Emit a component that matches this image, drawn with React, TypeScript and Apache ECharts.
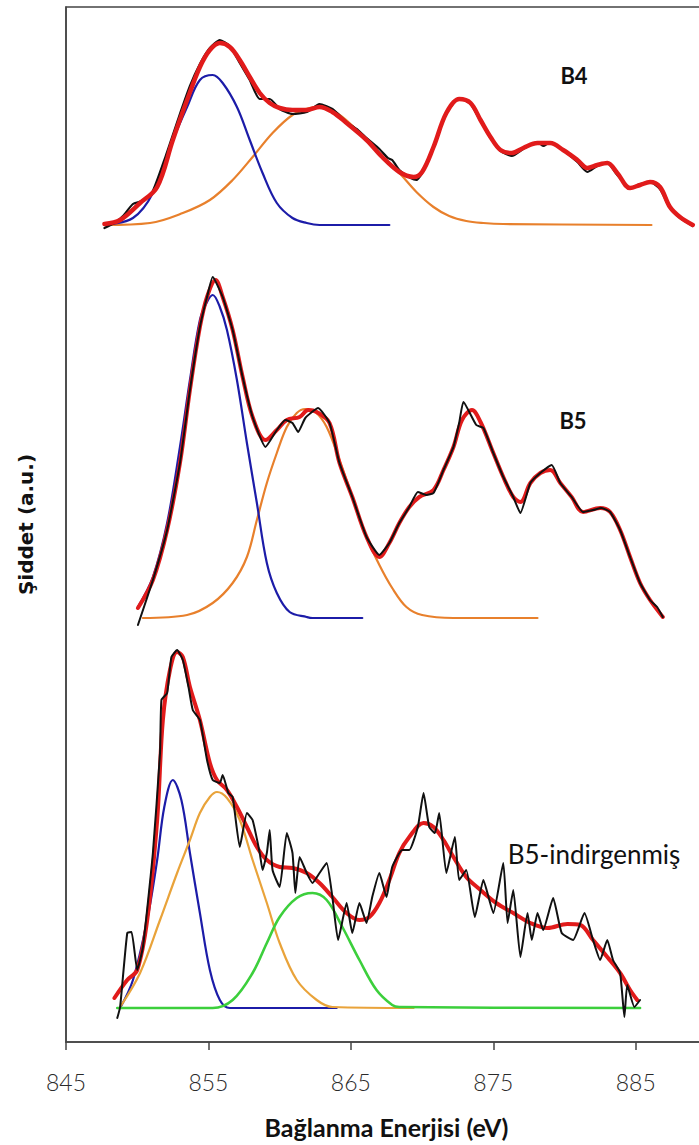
import React, { useEffect, useRef } from "react";
import * as echarts from "echarts";

// Binding energy axis (eV)
const X_MIN = 845;
const X_MAX = 890;
const X_STEP = 10;

// Vertical offsets (a.u.) used to stack the three spectra
const OFFSET_B4 = 816;
const OFFSET_B5 = 424;
const OFFSET_B5R = 34;

// ---- B4 ----  [eV, intensity above baseline]
const B4_RAW = [
  [847.7, -2], [848.5, 4], [849.0, 10], [849.7, 22], [850.3, 25], [851.0, 32], [852.0, 70],
  [852.9, 108], [853.7, 140], [854.4, 162], [855.1, 178], [855.8, 186], [856.5, 180],
  [857.2, 163], [857.9, 146], [858.6, 127], [859.3, 127], [860.0, 117], [860.9, 112],
  [861.9, 114], [862.8, 122], [863.7, 117], [864.7, 104], [865.5, 96], [866.1, 88],
  [867.0, 77], [867.6, 68], [867.9, 66], [868.4, 56], [869.2, 48], [869.6, 46], [870.0, 53],
  [870.8, 80], [871.7, 112], [872.6, 128], [873.4, 122], [874.1, 105], [874.8, 88],
  [875.5, 75], [876.3, 70], [877.1, 77], [878.1, 84], [878.5, 80], [879.0, 84], [879.9, 76],
  [880.9, 64], [881.6, 54], [882.3, 60], [883.0, 63], [883.7, 51], [884.6, 38], [885.3, 42],
  [886.0, 44], [886.7, 37], [887.4, 18], [888.1, 8], [889.0, 0],
];
const B4_FIT = [
  [847.7, 2], [848.8, 6], [850.2, 23], [851.4, 39], [852.5, 86], [853.5, 126], [854.4, 159],
  [855.1, 176], [855.8, 183], [856.5, 179], [857.2, 166], [857.9, 149], [858.6, 133],
  [859.3, 123], [860.0, 118], [860.9, 116], [861.9, 116], [862.8, 119], [863.7, 114],
  [864.7, 103], [866.1, 86], [867.2, 69], [868.4, 54], [869.4, 49], [870.0, 54], [870.8, 79],
  [871.7, 113], [872.6, 127], [873.4, 123], [874.1, 106], [874.8, 89], [875.5, 76],
  [876.3, 73], [877.1, 78], [878.1, 83], [879.0, 83], [879.9, 76], [880.9, 66], [881.6, 58],
  [882.3, 61], [883.0, 63], [883.7, 53], [884.6, 38], [885.3, 41], [886.0, 44], [886.7, 39],
  [887.4, 19], [888.1, 9], [889.0, 1],
];
const B4_PEAK_1 = [
  [847.7, 1], [849.7, 8], [851.1, 33], [852.5, 86], [853.5, 119], [854.4, 146], [855.3, 151],
  [856.0, 143], [857.0, 119], [857.9, 86], [858.8, 53], [859.8, 23], [860.9, 8], [861.9, 3],
  [862.8, 1], [867.7, 1],
];
const B4_PEAK_2 = [
  [847.7, 1], [850.9, 3], [853.2, 13], [855.1, 26], [856.7, 46], [858.1, 69], [859.5, 93],
  [860.9, 111], [862.1, 118], [863.0, 119], [864.0, 113], [864.9, 103], [866.1, 86],
  [867.2, 69], [868.4, 53], [869.6, 34], [870.8, 19], [871.9, 10], [873.1, 5], [874.3, 3],
  [875.7, 2], [886.1, 1],
];

// ---- B5 ----
const B5_RAW = [
  [850.05, -7], [851.1, 38], [852.1, 88], [853.0, 155], [853.7, 228], [854.4, 291],
  [854.9, 321], [855.3, 341], [856.0, 321], [856.7, 288], [857.4, 241], [858.1, 201],
  [859.0, 171], [859.8, 188], [860.4, 198], [860.9, 195], [861.3, 186], [861.8, 200],
  [862.7, 210], [863.5, 195], [864.2, 155], [865.1, 121], [866.1, 81], [867.0, 63],
  [867.7, 75], [868.4, 95], [869.1, 111], [869.7, 126], [870.3, 123], [870.8, 125],
  [871.5, 148], [872.2, 171], [872.6, 195], [872.9, 216], [873.8, 193], [874.3, 190],
  [875.0, 165], [875.7, 141], [876.4, 121], [876.9, 105], [877.6, 135], [878.3, 145],
  [879.1, 153], [879.7, 135], [880.5, 121], [881.3, 106], [882.0, 108], [882.6, 110],
  [883.2, 106], [883.9, 88], [884.6, 61], [885.3, 35], [886.0, 18], [886.5, 11], [886.9, 1],
];
const B5_FIT = [
  [850.05, 10], [851.1, 38], [852.1, 88], [853.0, 155], [853.7, 228], [854.4, 291],
  [854.9, 321], [855.5, 338], [856.0, 321], [856.7, 288], [857.4, 241], [858.1, 201],
  [859.0, 178], [859.8, 188], [860.5, 198], [861.4, 201], [862.0, 208], [862.6, 206],
  [863.5, 195], [864.2, 155], [865.1, 121], [866.1, 81], [867.0, 61], [867.7, 75],
  [868.4, 95], [869.1, 111], [869.8, 121], [870.8, 128], [871.5, 148], [872.2, 171],
  [872.8, 198], [873.5, 208], [874.1, 196], [875.0, 165], [875.7, 141], [876.4, 121],
  [876.9, 116], [877.6, 135], [878.3, 145], [879.0, 148], [879.7, 135], [880.5, 121],
  [881.3, 106], [882.5, 110], [883.2, 106], [883.9, 88], [884.6, 61], [885.3, 35],
  [886.0, 18], [886.9, 1],
];
const B5_PEAK_1 = [
  [850.05, 11], [851.1, 41], [852.1, 95], [853.0, 171], [853.7, 238], [854.4, 298],
  [854.9, 316], [855.3, 323], [855.8, 311], [856.3, 288], [857.0, 238], [857.7, 175],
  [858.4, 115], [859.1, 55], [859.8, 25], [860.7, 6], [861.9, 1], [862.3, 0], [865.8, 0],
];
const B5_PEAK_2 = [
  [850.4, 0], [853.5, 3], [855.3, 15], [856.7, 35], [857.7, 61], [858.4, 98], [859.1, 135],
  [859.8, 165], [860.5, 191], [861.2, 205], [861.8, 209], [862.5, 206], [863.3, 191],
  [864.2, 158], [865.1, 121], [866.1, 81], [867.0, 53], [867.9, 30], [868.9, 11], [870.0, 3],
  [872.2, 0], [878.1, 0],
];

// ---- B5-indirgenmiş ----
const B5R_RAW = [
  [848.6, -10], [848.8, 1], [849.3, 75], [849.6, 76], [850.0, 38], [850.4, 61], [851.1, 155],
  [851.6, 255], [851.7, 308], [852.1, 315], [852.4, 351], [852.8, 358], [853.2, 348],
  [853.6, 321], [853.9, 298], [854.4, 288], [854.9, 248], [855.3, 228], [855.8, 225],
  [856.0, 233], [856.4, 215], [856.7, 211], [857.2, 161], [857.7, 195], [858.1, 188],
  [858.6, 155], [858.8, 138], [859.1, 155], [859.3, 178], [859.5, 138], [860.0, 121],
  [860.5, 175], [860.9, 155], [861.1, 115], [861.4, 151], [861.9, 135], [862.3, 125],
  [862.8, 135], [863.3, 145], [863.7, 111], [864.1, 68], [864.7, 105], [865.1, 75],
  [865.6, 105], [866.1, 85], [866.5, 111], [867.0, 135], [867.5, 111], [867.9, 141],
  [868.6, 158], [869.1, 158], [869.7, 181], [870.1, 215], [870.5, 181], [870.9, 175],
  [871.2, 195], [871.7, 135], [872.3, 171], [872.6, 128], [873.1, 138], [873.7, 91],
  [874.3, 128], [875.0, 95], [875.7, 145], [876.0, 85], [876.4, 118], [876.9, 51],
  [877.4, 95], [877.7, 68], [878.1, 95], [878.5, 78], [879.2, 110], [879.8, 75], [880.6, 68],
  [881.4, 95], [882.0, 68], [882.5, 48], [883.0, 68], [883.4, 48], [883.9, 35], [884.2, -9],
  [884.4, 23], [884.9, 1], [885.3, 8],
];
const B5R_FIT = [
  [848.4, 10], [849.3, 28], [850.0, 38], [850.7, 88], [851.4, 188], [851.8, 288],
  [852.3, 338], [852.8, 356], [853.2, 351], [853.7, 321], [854.4, 288], [855.1, 245],
  [855.6, 228], [856.3, 218], [857.0, 201], [857.7, 181], [858.4, 161], [859.1, 148],
  [860.0, 141], [860.9, 140], [861.9, 135], [862.8, 125], [863.7, 111], [864.7, 95],
  [865.6, 88], [866.3, 91], [867.0, 105], [867.7, 128], [868.4, 155], [869.1, 171],
  [870.1, 185], [870.8, 181], [871.5, 168], [872.2, 151], [873.1, 131], [874.1, 118],
  [875.2, 105], [876.4, 95], [877.6, 85], [878.8, 80], [880.2, 84], [881.1, 83], [882.0, 68],
  [883.0, 51], [883.9, 35], [884.6, 18], [885.1, 8],
];
const B5R_PEAK_1 = [
  [848.8, 0], [849.7, 28], [850.7, 88], [851.4, 148], [851.9, 201], [852.5, 228],
  [853.1, 208], [853.7, 155], [854.4, 95], [855.1, 38], [855.8, 8], [856.5, 0], [864.0, 0],
];
const B5R_PEAK_2 = [
  [848.8, 1], [850.2, 35], [851.6, 88], [852.8, 135], [853.7, 168], [854.4, 195],
  [855.1, 211], [855.6, 216], [856.3, 210], [857.2, 188], [858.1, 148], [859.1, 105],
  [860.0, 65], [861.2, 28], [862.6, 8], [863.7, 1], [869.4, 0],
];
const B5R_PEAK_3 = [
  [848.6, 0], [855.3, 0], [856.7, 8], [858.1, 35], [859.1, 65], [860.0, 91], [861.2, 110],
  [862.3, 115], [863.3, 108], [864.4, 81], [865.6, 48], [866.8, 18], [867.9, 3], [868.4, 1],
  [885.3, 0],
];

const RED = "#e11b1b";
const BLACK = "#111111";
const BLUE = "#1c1ca8";
const ORANGE = "#e8802c";
const GOLD = "#e9a33a";
const GREEN = "#3ccf3c";

type Pt = number[];

function curve(
  data: Pt[],
  offset: number,
  color: string,
  width: number,
  z: number,
  smooth: number | boolean
) {
  return {
    type: "line",
    data: data.map(([x, y]) => [x, y + offset]),
    symbol: "none",
    showSymbol: false,
    smooth,
    lineStyle: { color, width, cap: "round", join: "round" },
    z,
    silent: true,
  };
}

export default function App() {
  const ref = useRef<HTMLDivElement>(null);

  useEffect(() => {
    if (!ref.current) return;
    const chart = echarts.init(ref.current, undefined, { renderer: "svg" });
    chart.setOption({
      animation: false,
      backgroundColor: "#ffffff",
      grid: {
        left: 66,
        right: 13,
        top: 7,
        bottom: 103,
        show: true,
        borderColor: "#444",
        borderWidth: 1.5,
      },
      xAxis: {
        type: "value",
        min: X_MIN,
        max: X_MAX,
        interval: X_STEP,
        name: "Bağlanma Enerjisi (eV)",
        nameLocation: "middle",
        nameGap: 72,
        nameTextStyle: {
          fontFamily: "Lato",
          fontWeight: "bold",
          fontSize: 25,
          color: "#111",
        },
        axisLine: { lineStyle: { color: "#444", width: 1.5 } },
        axisTick: { length: 8, lineStyle: { color: "#444", width: 1.5 } },
        axisLabel: {
          showMaxLabel: false,
          margin: 28,
          fontFamily: "Lato",
          fontWeight: 300,
          fontSize: 23,
          color: "#2a2a2a",
        },
        splitLine: { show: false },
      },
      yAxis: {
        type: "value",
        min: 0,
        max: 1035,
        name: "Şiddet (a.u.)",
        nameLocation: "middle",
        nameRotate: 90,
        nameGap: 30,
        nameTextStyle: {
          fontFamily: "DejaVu Sans",
          fontWeight: "bold",
          fontSize: 20,
          color: "#111",
        },
        axisLine: { show: true, lineStyle: { color: "#444", width: 1.5 } },
        axisTick: { show: false },
        axisLabel: { show: false },
        splitLine: { show: false },
      },
      graphic: [
        {
          type: "text",
          x: 574,
          y: 75,
          style: {
            text: "B4",
            fontFamily: "Lato",
            fontWeight: "bold",
            fontSize: 22,
            fill: "#111",
            textAlign: "center",
            textVerticalAlign: "middle",
          },
        },
        {
          type: "text",
          x: 573,
          y: 420,
          style: {
            text: "B5",
            fontFamily: "Lato",
            fontWeight: "bold",
            fontSize: 22,
            fill: "#111",
            textAlign: "center",
            textVerticalAlign: "middle",
          },
        },
        {
          type: "text",
          x: 594,
          y: 854,
          style: {
            text: "B5-indirgenmiş",
            fontFamily: "Lato",
            fontSize: 26,
            fill: "#111",
            textAlign: "center",
            textVerticalAlign: "middle",
          },
        },
      ],
      series: [
        // B4: raw under the fit
        curve(B4_PEAK_2, OFFSET_B4, ORANGE, 2.2, 2, 0.35),
        curve(B4_PEAK_1, OFFSET_B4, BLUE, 2.2, 3, 0.35),
        curve(B4_RAW, OFFSET_B4, BLACK, 2.2, 4, 0.2),
        curve(B4_FIT, OFFSET_B4, RED, 4.5, 5, 0.35),
        // B5: raw over the fit
        curve(B5_PEAK_2, OFFSET_B5, ORANGE, 2.2, 2, 0.35),
        curve(B5_PEAK_1, OFFSET_B5, BLUE, 2.2, 3, 0.35),
        curve(B5_FIT, OFFSET_B5, RED, 4, 4, 0.35),
        curve(B5_RAW, OFFSET_B5, BLACK, 2, 5, 0.15),
        // B5-indirgenmiş
        curve(B5R_PEAK_1, OFFSET_B5R, BLUE, 2.2, 2, 0.35),
        curve(B5R_PEAK_2, OFFSET_B5R, GOLD, 2.2, 2, 0.35),
        curve(B5R_PEAK_3, OFFSET_B5R, GREEN, 2.6, 3, 0.35),
        curve(B5R_FIT, OFFSET_B5R, RED, 4, 4, 0.35),
        curve(B5R_RAW, OFFSET_B5R, BLACK, 2, 5, 0.15),
      ],
    });
    return () => chart.dispose();
  }, []);

  return (
    <div
      style={{
        position: "absolute",
        left: 0,
        top: 0,
        width: 699,
        height: 1145,
        overflow: "hidden",
        background: "#fff",
      }}
    >
      <div ref={ref} style={{ width: 720, height: 1145 }} />
    </div>
  );
}
